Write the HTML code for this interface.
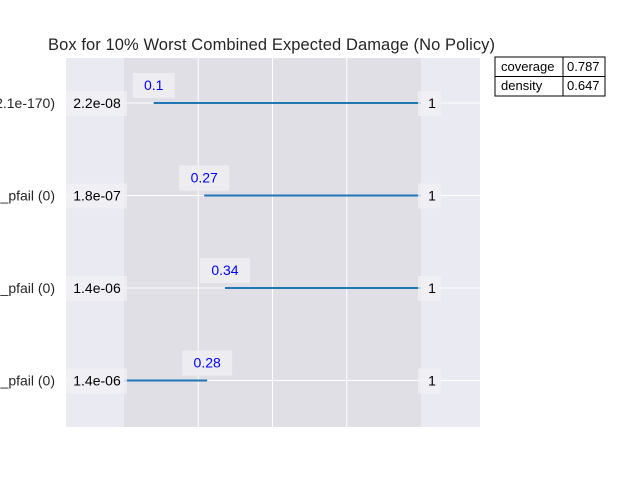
<!DOCTYPE html>
<html><head><meta charset="utf-8"><style>
body{margin:0;background:#fff;}
svg{display:block;font-family:"Liberation Sans",Arial,sans-serif;}
</style></head><body>
<svg id="chart" width="640" height="480">
<text x="48" y="50" font-size="16.5" fill="#262626" textLength="447">Box for 10% Worst Combined Expected Damage (No Policy)</text>
<rect x="66" y="58" width="414" height="369" fill="#eaeaf2"/>
<rect x="124" y="58" width="297" height="369" fill="#dfdfe5"/>
<g id="grid"></g>
<g id="marks"></g>
<g font-size="13" fill="#000">
<rect x="495" y="57" width="110" height="39" fill="#fff" stroke="#000" stroke-width="1"/>
<line x1="495" y1="76.5" x2="605" y2="76.5" stroke="#000"/>
<line x1="563" y1="57" x2="563" y2="96" stroke="#000"/>
<text x="501" y="71">coverage</text><text x="567" y="71">0.787</text>
<text x="501" y="90">density</text><text x="567" y="90">0.647</text>
</g>
</svg>
<script>
const yLabels=["(2.1e-170)","_pfail (0)","_pfail (0)","_pfail (0)"];
const lowerVals=[0.1,0.27,0.34,0.0];
const upperVals=[1,1,1,1];
const lowerText=["2.2e-08","1.8e-07","1.4e-06","1.4e-06"];
const upperText=["1","1","1","1"];
const boxText=["0.1","0.27","0.34","0.28"];
const boxVals=[0.1,0.27,0.34,0.28];
const xTicks=[0.25,0.5,0.75];
const NS="http://www.w3.org/2000/svg";
const xs=v=>124+v*297;
const ys=i=>103+i*92.5;
const grid=document.getElementById('grid'),marks=document.getElementById('marks'),svg=document.getElementById('chart');
function mk(t,a,p){const e=document.createElementNS(NS,t);for(const k in a)e.setAttribute(k,a[k]);(p||marks).appendChild(e);return e;}
xTicks.forEach(v=>{const l=mk('line',{x1:xs(v),x2:xs(v),y1:58,y2:427,stroke:'#fff','stroke-width':1},grid);

});
yLabels.forEach((lab,i)=>{
const y=ys(i);
const g=mk('line',{x1:66,x2:480,y1:y,y2:y,stroke:'#fff','stroke-width':1},grid);


const t=mk('text',{x:55,y:y+5,'font-size':14,'text-anchor':'end',fill:'#262626'},svg);t.textContent=lab;


const ln=mk('line',{x1:xs(lowerVals[i]),x2:i==3?xs(boxVals[i]):xs(upperVals[i]),y1:y,y2:y,stroke:'#1f77b4','stroke-width':2});


const lb=mk('rect',{x:66,y:y-12,width:61,height:25,fill:'#f0f0f4',opacity:0.8});


const lt=mk('text',{x:97,y:y+5,'font-size':14,'text-anchor':'middle',fill:'#000'});lt.textContent=lowerText[i];


const ub=mk('rect',{x:xs(upperVals[i])-3,y:y-12,width:23,height:25,fill:'#f0f0f4',opacity:0.8});


const ut=mk('text',{x:xs(upperVals[i])+11,y:y+5,'font-size':14,'text-anchor':'middle',fill:'#000'});ut.textContent=upperText[i];


const w=boxText[i].length*8+18;
const cx=xs(boxVals[i]);
const br=mk('rect',{x:cx-w/2,y:y-30,width:w,height:25,fill:'#eeeef2',opacity:0.9});


const bt=mk('text',{x:cx,y:y-13,'font-size':14,'text-anchor':'middle',fill:'#0000ff'});bt.textContent=boxText[i];


});
</script>
</body></html>
